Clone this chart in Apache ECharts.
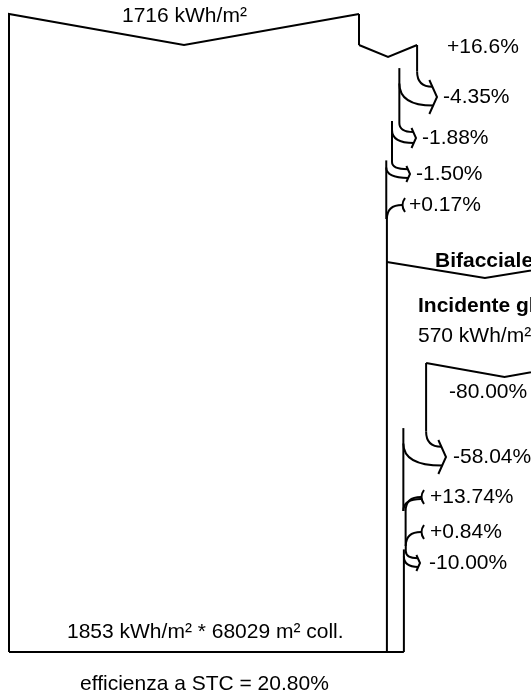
<!DOCTYPE html>
<html>
<head>
<meta charset="utf-8">
<script src="https://cdn.jsdelivr.net/npm/echarts@6/dist/echarts.min.js"></script>
<style>
  html, body { margin: 0; padding: 0; background: #ffffff; }
  #chart { width: 531px; height: 694px; }
</style>
</head>
<body>
<div id="chart"></div>
<script>
// ---- Irradiance figures (kWh/m²) ----
const globalHoriz = 1716;
const effectiveFront = 1853;
const collectorArea = 68029;
const rearIncident = 570;
const stcEfficiency = 20.80;

// ---- Gains and losses along the flow (%) ----
const frontSteps = [16.6, -4.35, -1.88, -1.50, 0.17];
const frontDecimals = [1, 2, 2, 2, 2];
const rearSteps = [-80.00, -58.04, 13.74, 0.84, -10.00];
const rearDecimals = [2, 2, 2, 2, 2];

// ---- Text ----
const rearTitle = 'Bifacciale';
const rearSubtitle = 'Incidente globale sul retro';
const unit = 'kWh/m²';

// ---- Layout of the diagram (drawing units = pixels of the canvas) ----
const frontLeft = 9, frontWidth = 350, boxTop = 14, boxBottom = 652, frontDip = 31;
const rearTop = 262, rearWidth = 196, rearDip = 16;
const frontLayout = [
  { kind: 'box',  y: 45,  dip: 12, labelX: 447, labelY: 47 },
  { kind: 'loss', y: 97,  s: 17, tip: 437, labelX: 443 },
  { kind: 'loss', y: 138, s: 10, tip: 416, labelX: 422 },
  { kind: 'loss', y: 174, s: 8,  tip: 410, labelX: 416 },
  { kind: 'gain', y: 205, s: 7,  head: 402, labelX: 409 }
];
const rearLayout = [
  { kind: 'box',  y: 363, dip: 14, labelX: 449, labelY: 392 },
  { kind: 'loss', y: 457, s: 17, tip: 446, labelX: 453 },
  { kind: 'gain', y: 497, s: 7,  head: 421, labelX: 430 },
  { kind: 'gain', y: 532, s: 7,  head: 421, labelX: 430 },
  { kind: 'loss', y: 563, s: 8,  tip: 420, labelX: 429 }
];

const FONT = '"Liberation Sans", Arial, Helvetica, sans-serif';
const lines = [];
const texts = [];

function poly(pts) { return { kind: 'poly', pts: pts }; }
function quad(a, c, b) { return { kind: 'quad', a: a, c: c, b: b }; }
function fmt(p, d) { return (p > 0 ? '+' : '') + p.toFixed(d) + '%'; }

// Walk one flow band: its right edge moves with every gain or loss
function buildFlow(steps, layout, decimals, left, width, edgeStart) {
  let frac = 1;
  let edge = left + width;
  steps.forEach(function (p, i) {
    const L = layout[i];
    const nextFrac = frac * (1 + p / 100);
    const next = left + width * nextFrac;
    if (L.kind === 'box') {
      lines.push(poly([[edge, edgeStart], [edge, L.y]]));
      lines.push(poly([[edge, L.y], [(edge + next) / 2, L.y + L.dip], [next, L.y]]));
      texts.push({ x: L.labelX, y: L.labelY, text: fmt(p, decimals[i]) });
      edgeStart = L.y;
    } else if (L.kind === 'loss') {
      const s = L.s, yc = L.y, d = 0.45 * s;
      const bend = yc - 1.5 * s;
      lines.push(poly([[edge, edgeStart], [edge, bend]]));
      const oy = yc - 0.6 * s, ox = L.tip - d * 0.6;
      lines.push(quad([edge, bend], [edge, oy], [ox, oy]));
      const iy = yc + 0.5 * s, ix = L.tip - d * 0.5;
      lines.push(quad([next, yc - 0.8 * s], [next, iy], [ix, iy]));
      lines.push(poly([[L.tip - d, yc - s], [L.tip, yc], [L.tip - d, yc + s]]));
      texts.push({ x: L.labelX, y: yc, text: fmt(p, decimals[i]) });
      edgeStart = yc - 1.7 * s;
    } else {
      const s = L.s, yc = L.y, yj = yc + 2 * s;
      lines.push(poly([[edge, edgeStart], [edge, yj]]));
      lines.push(quad([L.head + 3, yc - s], [L.head - 2, yc], [L.head + 3, yc + s]));
      lines.push(quad([L.head, yc], [next, yc], [next, yj]));
      if (next - edge > 1) {
        lines.push(quad([L.head, yc + 2], [edge, yc + 2], [edge, yj]));
      }
      texts.push({ x: L.labelX, y: yc, text: fmt(p, decimals[i]) });
      edgeStart = yj;
    }
    frac = nextFrac;
    edge = next;
  });
  return { edge: edge, edgeStart: edgeStart };
}

// Front box: left side and notched top
lines.push(poly([[frontLeft, boxBottom], [frontLeft, boxTop],
  [frontLeft + frontWidth / 2, boxTop + frontDip], [frontLeft + frontWidth, boxTop]]));
texts.push({ x: 122, y: 16, text: globalHoriz + ' ' + unit });

const front = buildFlow(frontSteps, frontLayout, frontDecimals, frontLeft, frontWidth, boxTop);
lines.push(poly([[front.edge, front.edgeStart], [front.edge, boxBottom]]));

// Rear band starts on the right edge of the front band
const rearLeft = front.edge;
lines.push(poly([[rearLeft, rearTop], [rearLeft + rearWidth / 2, rearTop + rearDip],
  [rearLeft + rearWidth, rearTop]]));
texts.push({ x: 435, y: 261, text: rearTitle, bold: true });
texts.push({ x: 418, y: 306, text: rearSubtitle, bold: true });
texts.push({ x: 418, y: 336, text: rearIncident + ' ' + unit });

const rear = buildFlow(rearSteps, rearLayout, rearDecimals, rearLeft, rearWidth, rearTop);
lines.push(poly([[rear.edge, rear.edgeStart], [rear.edge, boxBottom]]));

// Bottom of both bands
lines.push(poly([[frontLeft, boxBottom], [rear.edge, boxBottom]]));
texts.push({ x: 67, y: 632, text: effectiveFront + ' ' + unit + ' * ' + collectorArea + ' m² coll.' });
texts.push({ x: 80, y: 684, text: 'efficienza a STC = ' + stcEfficiency.toFixed(2) + '%' });

const chart = echarts.init(document.getElementById('chart'), null, { renderer: 'canvas' });

chart.setOption({
  animation: false,
  backgroundColor: '#ffffff',
  grid: { left: 0, right: 0, top: 0, bottom: 0 },
  xAxis: { type: 'value', min: 0, max: 531, show: false },
  yAxis: { type: 'value', min: 0, max: 694, inverse: true, show: false },
  series: [
    {
      type: 'custom',
      coordinateSystem: 'cartesian2d',
      silent: true,
      data: lines.map(function (_, i) { return [i]; }),
      renderItem: function (params, api) {
        const L = lines[params.dataIndex];
        const style = { stroke: '#000000', lineWidth: 2, fill: null, lineJoin: 'miter' };
        if (L.kind === 'poly') {
          return {
            type: 'polyline',
            shape: { points: L.pts.map(function (p) { return api.coord(p); }) },
            style: style
          };
        }
        const a = api.coord(L.a), c = api.coord(L.c), b = api.coord(L.b);
        return {
          type: 'bezierCurve',
          shape: { x1: a[0], y1: a[1], cpx1: c[0], cpy1: c[1], x2: b[0], y2: b[1] },
          style: style
        };
      }
    },
    {
      type: 'custom',
      coordinateSystem: 'cartesian2d',
      silent: true,
      data: texts.map(function (t) { return [t.x, t.y]; }),
      renderItem: function (params, api) {
        const t = texts[params.dataIndex];
        const p = api.coord([api.value(0), api.value(1)]);
        return {
          type: 'text',
          x: p[0],
          y: p[1],
          style: {
            text: t.text,
            font: (t.bold ? 'bold ' : '') + '21px ' + FONT,
            fill: '#000000',
            align: 'left',
            verticalAlign: 'middle'
          }
        };
      }
    }
  ]
});
</script>
</body>
</html>
